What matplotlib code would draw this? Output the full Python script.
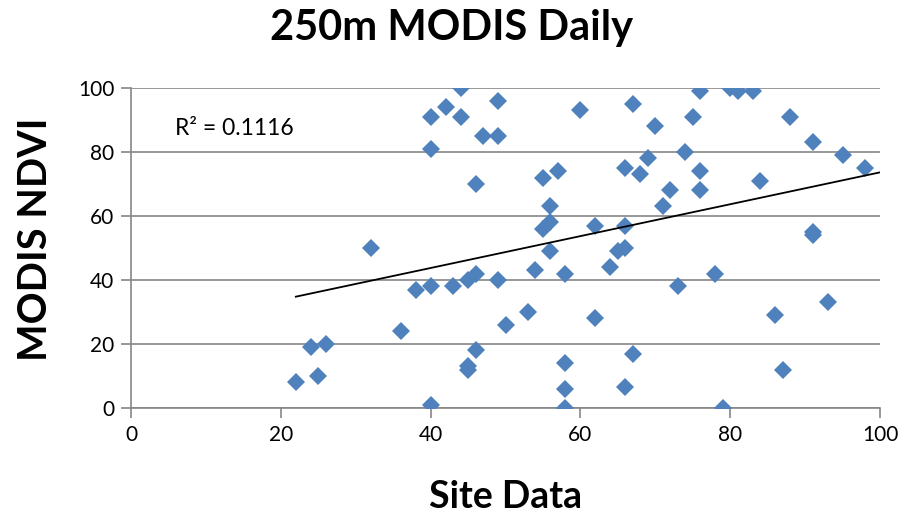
import numpy as np
from matplotlib import pyplot as plt
import matplotlib
matplotlib.rcParams['font.family'] = ['Lato', 'DejaVu Sans']

# -----------------------------------------------------------#
# Data
# -----------------------------------------------------------#
site_data = [22, 24, 25, 26, 32, 36, 38, 40, 40, 40, 40, 42, 43, 44, 44,
             45, 45, 45, 46, 46, 46, 47, 49, 49, 49, 50, 53, 54, 55, 57,
             56, 56, 55, 56, 58, 58, 58, 58, 60, 62, 62, 64, 65, 66, 67,
             66, 66, 67, 66, 68, 69, 70, 71, 72, 73, 74, 75, 76, 76, 76,
             78, 79, 80, 81, 83, 84, 86, 87, 88, 91, 91, 91, 93, 95, 98]
modis_ndvi = [8, 19, 10, 20, 50, 24, 37, 38, 81, 91, 1, 94, 38, 100, 91,
              40, 13, 12, 42, 70, 18, 85, 85, 96, 40, 26, 30, 43, 72, 74,
              63, 58, 56, 49, 42, 14, 6, 0, 93, 57, 28, 44, 49, 50, 95,
              75, 57, 17, 6.5, 73, 78, 88, 63, 68, 38, 80, 91, 99, 74, 68,
              42, 0, 100, 99, 99, 71, 29, 12, 91, 83, 55, 54, 33, 79, 75]
r2_label = "R² = 0.1116"

# linear trend line
coef = np.polyfit(site_data, modis_ndvi, 1)
xt = np.array([min(site_data), 100])

fig = plt.figure(figsize=(9.1, 5.13), dpi=100)
ax = fig.add_axes([0.144, 0.2047, 0.823, 0.6238])

ax.plot(site_data, modis_ndvi, 'D', color='#4F81BD', markersize=9.5, markeredgewidth=0, zorder=3)
ax.plot(xt, np.polyval(coef, xt), color='black', linewidth=1.3, zorder=4)

ax.set_xlim(0, 100)
ax.set_ylim(0, 100)
ax.set_xticks(np.arange(0, 101, 20))
ax.set_yticks(np.arange(0, 101, 20))
ax.tick_params(labelsize=15, color='#868686', length=7, width=1.2, pad=5)
ax.grid(axis='y', color='#868686', linewidth=1.2)
ax.set_axisbelow(True)
for s in ['top', 'right']:
    ax.spines[s].set_visible(False)
for s in ['left', 'bottom']:
    ax.spines[s].set_color('#868686')
    ax.spines[s].set_linewidth(1.2)

ax.text(5.9, 87.3, r2_label, fontsize=16.5, va='center')

# titles
fig.text(0.496, 1 - 40/513, "250m MODIS Daily", fontsize=30, fontweight='bold', ha='center', va='baseline')
fig.text(506/910, 1 - 508/513, "Site Data", fontsize=27, fontweight='bold', ha='center', va='baseline')
fig.text(36/910, 1 - 239/513, "MODIS NDVI", fontsize=28.5, fontweight='bold', ha='center', va='center', rotation=90)

plt.savefig("out.png", dpi=100)
